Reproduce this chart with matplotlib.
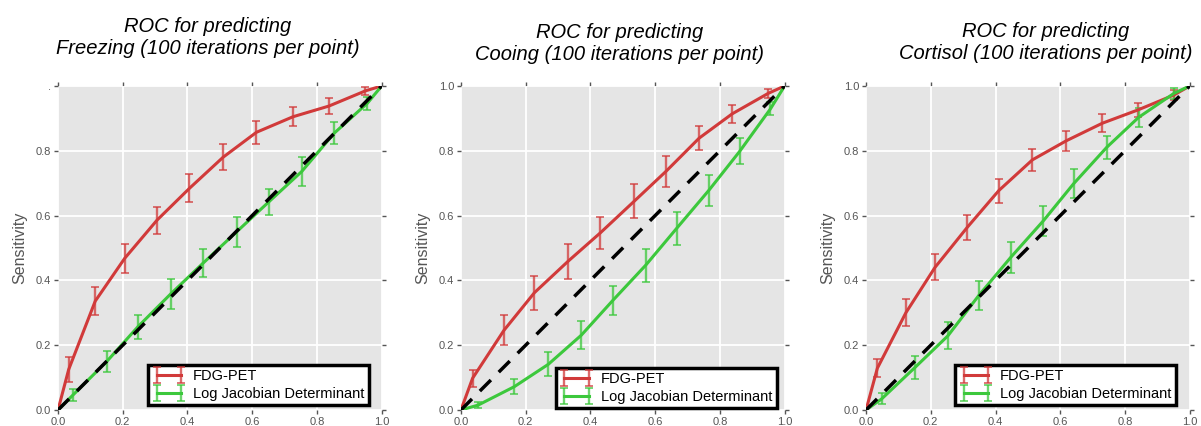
import numpy as np
from matplotlib import pyplot as plt
from matplotlib.legend_handler import HandlerErrorbar

plt.style.use('ggplot')
plt.rcParams['font.family'] = ['Liberation Sans', 'DejaVu Sans']

titles = ['ROC for predicting\nFreezing (100 iterations per point)',
          'ROC for predicting\nCooing (100 iterations per point)',
          'ROC for predicting\nCortisol (100 iterations per point)']

# FDG-PET: (1 - specificity, sensitivity, error)
fdg_x = [
    [0.0, 0.033, 0.115, 0.206, 0.306, 0.406, 0.51, 0.613, 0.726, 0.837, 0.95, 1.0],
    [0.0, 0.036, 0.133, 0.227, 0.331, 0.431, 0.535, 0.633, 0.736, 0.838, 0.949, 1.0],
    [0.0, 0.035, 0.123, 0.213, 0.313, 0.41, 0.514, 0.619, 0.73, 0.84, 0.951, 1.0],
]
fdg_y = [
    [0.0, 0.125, 0.336, 0.468, 0.586, 0.684, 0.78, 0.857, 0.905, 0.938, 0.985, 1.0],
    [0.0, 0.098, 0.246, 0.362, 0.459, 0.547, 0.644, 0.736, 0.839, 0.914, 0.977, 1.0],
    [0.0, 0.129, 0.3, 0.44, 0.564, 0.677, 0.772, 0.831, 0.885, 0.926, 0.972, 1.0],
]
fdg_err = [
    [0, 0.039, 0.043, 0.044, 0.042, 0.043, 0.04, 0.036, 0.03, 0.024, 0.012, 0],
    [0, 0.026, 0.046, 0.053, 0.054, 0.05, 0.053, 0.047, 0.037, 0.027, 0.013, 0],
    [0, 0.028, 0.041, 0.04, 0.038, 0.037, 0.034, 0.031, 0.028, 0.022, 0.015, 0],
]

# Log Jacobian Determinant
ljd_x = [
    [0.0, 0.046, 0.15, 0.247, 0.348, 0.448, 0.552, 0.652, 0.753, 0.853, 0.956, 1.0],
    [0.0, 0.053, 0.165, 0.27, 0.372, 0.47, 0.571, 0.666, 0.766, 0.861, 0.956, 1.0],
    [0.0, 0.048, 0.152, 0.253, 0.348, 0.447, 0.548, 0.641, 0.744, 0.842, 0.951, 1.0],
]
ljd_y = [
    [0.0, 0.046, 0.149, 0.257, 0.358, 0.453, 0.55, 0.643, 0.736, 0.854, 0.947, 1.0],
    [0.0, 0.015, 0.072, 0.141, 0.231, 0.339, 0.447, 0.56, 0.678, 0.798, 0.929, 1.0],
    [0.0, 0.034, 0.132, 0.229, 0.353, 0.471, 0.584, 0.698, 0.811, 0.903, 0.977, 1.0],
]
ljd_err = [
    [0, 0.019, 0.032, 0.037, 0.047, 0.044, 0.047, 0.04, 0.044, 0.034, 0.02, 0],
    [0, 0.01, 0.024, 0.037, 0.043, 0.045, 0.051, 0.05, 0.047, 0.04, 0.02, 0],
    [0, 0.017, 0.035, 0.041, 0.044, 0.047, 0.046, 0.045, 0.036, 0.03, 0.016, 0],
]

red = '#D13A3A'
green = '#3CC83C'

fig = plt.figure(figsize=(12.01, 4.26), dpi=100)
lefts = [0.0483, 0.3838, 0.7211]
title_pos = [(0.1732, 0.912), (0.5162, 0.898), (0.8705, 0.900)]
leg_anchor = [(0.96, 0.015), (0.975, 0.006), (0.957, 0.015)]

for i in range(3):
    ax = fig.add_axes([lefts[i], 0.0376, 0.2695, 0.7606])
    ax.set_facecolor('#E5E5E5')
    ax.grid(True, color='white', linewidth=1.3)
    ax.set_axisbelow(True)
    for s in ax.spines.values():
        s.set_visible(False)

    ax.plot([0, 1], [0, 1], '--', color='black', linewidth=2.5, dashes=(4.5, 3.2), zorder=5)

    for xs, ys, es, c, lab in [(fdg_x[i], fdg_y[i], fdg_err[i], red, 'FDG-PET'),
                               (ljd_x[i], ljd_y[i], ljd_err[i], green, 'Log Jacobian Determinant')]:
        eb = ax.errorbar(xs, ys, yerr=es, fmt='-', color=c, linewidth=2.2,
                         elinewidth=1.7, capsize=2.8, capthick=1.3, errorevery=slice(1, -1),
                         label=lab, zorder=4)
        for art in eb[1] + eb[2]:
            art.set_alpha(0.75)

    ax.set_xlim(0, 1)
    ax.set_ylim(0, 1)
    ax.set_xticks(np.arange(0, 1.01, 0.2))
    ax.set_yticks(np.arange(0, 1.01, 0.2))
    ax.set_xticklabels(['0.0', '0.2', '0.4', '0.6', '0.8', '1.0'])
    if i == 0:
        ax.set_yticklabels(['0.0', '0.2', '0.4', '0.6', '0.8', '.'])
    else:
        ax.set_yticklabels(['0.0', '0.2', '0.4', '0.6', '0.8', '1.0'])
    ax.tick_params(which='both', direction='out', length=3, width=1, color='#555555',
                   labelcolor='#555555', labelsize=8, top=True, right=True, pad=2)
    ax.set_ylabel('Sensitivity', color='#555555', fontsize=11.5, labelpad=6)

    leg = ax.legend(loc='lower right', bbox_to_anchor=leg_anchor[i], numpoints=2,
                    fontsize=10.5, handlelength=2.3, borderpad=0.3, labelspacing=0.25,
                    handletextpad=0.5, fancybox=False, framealpha=1, borderaxespad=0,
                    handler_map={type(eb): HandlerErrorbar(marker_pad=0.3, yerr_size=0.55)})
    leg.get_frame().set_facecolor('white')
    leg.get_frame().set_edgecolor('black')
    leg.get_frame().set_linewidth(2.5)
    for t in leg.get_texts():
        t.set_color('black')

    fig.text(title_pos[i][0], title_pos[i][1], titles[i], ha='center', va='center',
             fontsize=14.5, style='italic', linespacing=1.15)

plt.savefig('out.png', dpi=100)
